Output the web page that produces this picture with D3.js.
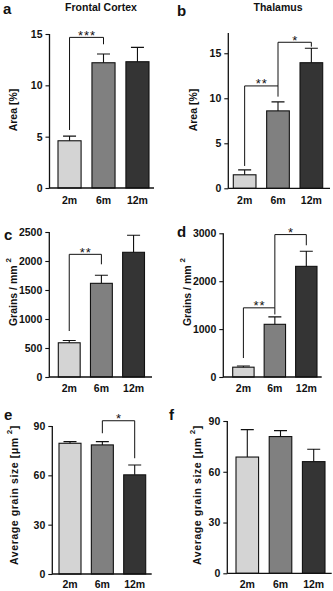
<!DOCTYPE html>
<html lang="en">
<head>
<meta charset="utf-8" />
<title>Area, grain density and grain size by age</title>
<style>
  body{margin:0;background:#fff;}
  svg text{font-family:"Liberation Sans",Arial,sans-serif;fill:#111;}
  .tick text{font-size:10.5px;font-weight:bold;}
  .xlab{font-size:10.5px;font-weight:bold;}
  .ylab{font-size:10.5px;font-weight:bold;}
  .title{font-size:10.5px;font-weight:bold;}
  .letter{font-size:15px;font-weight:bold;}
  .star{font-size:13px;letter-spacing:1px;}
</style>
<script src="https://cdn.jsdelivr.net/npm/d3@7.9.0/dist/d3.min.js"></script>
</head>
<body>
<div id="chart"></div>
<script>
/* ───────── DATA ───────── */
const months = ['2m','6m','12m'];
const fills  = ['#d4d4d4','#808080','#343434'];

const areaFC      = [4.6, 12.2, 12.3];
const areaFCerr   = [0.45, 0.85, 1.4];
const areaTH      = [1.5, 8.6, 13.95];
const areaTHerr   = [0.55, 1.0, 1.6];

const grainsFC    = [590, 1615, 2150];
const grainsFCerr = [40, 140, 295];
const grainsTH    = [205, 1100, 2310];
const grainsTHerr = [25, 155, 315];

const sizeFC      = [79.5, 78.5, 60.3];
const sizeFCerr   = [1.0, 2.0, 6.0];
const sizeTH      = [68.7, 80.8, 66.0];
const sizeTHerr   = [16.2, 3.5, 7.3];

const ticksArea   = [0, 5, 10, 15];
const ticksGrA    = [0, 500, 1000, 1500, 2000, 2500];
const ticksGrB    = [0, 1000, 2000, 3000];
const ticksSize   = [0, 30, 60, 90];

/* significance brackets: from/to bar, bracket level, leg ends (data units) */
const sigA = [{from:0,to:1,top:14.67,endA:5.65,endB:14.0,label:'***'}];
const sigB = [{from:0,to:1,top:11.37,endA:2.48,endB:10.18,label:'**'},
              {from:1,to:2,top:16.22,endA:11.37,endB:15.73,label:'*'}];
const sigC = [{from:0,to:1,top:2115,endA:793,endB:1943,label:'**'}];
const sigD = [{from:0,to:1,top:1444,endA:396,endB:1306,label:'**'},
              {from:1,to:2,top:2973,endA:1444,endB:2750,label:'*'}];
const sigE = [{from:1,to:2,top:93.2,endA:85.6,endB:70.4,label:'*'}];

/* ───────── LAYOUT ───────── */
const W = 333, H = 591;
const panels = [
  {letter:'a', lx:3,   ly:14,  title:'Frontal Cortex', tx:101,
   ax:49.5, xEnd:154, bars:[58,149], y0:188, yTop:34, max:15, ticks:ticksArea,
   vals:areaFC, err:areaFCerr, sig:sigA, ylab:'Area [%]', ylx:13, yly:110, xly:204},
  {letter:'b', lx:177, ly:16,  title:'Thalamus', tx:278,
   ax:228.3, xEnd:330, bars:[233.3,322.7], y0:188.3, yTop:33, max:17.25, ticks:ticksArea,
   vals:areaTH, err:areaTHerr, sig:sigB, ylab:'Area [%]', ylx:193, yly:110, xly:204},
  {letter:'c', lx:4,   ly:240,
   ax:49.3, xEnd:152, bars:[58.3,144.5], y0:377, yTop:232, max:2500, ticks:ticksGrA,
   vals:grainsFC, err:grainsFCerr, sig:sigC, ylab:'Grains / mm', sup:true, ylx:13, yly:292, xly:392},
  {letter:'d', lx:177, ly:237,
   ax:223.3, xEnd:321.7, bars:[232.7,317], y0:377, yTop:233.3, max:3000, ticks:ticksGrB,
   vals:grainsTH, err:grainsTHerr, sig:sigD, ylab:'Grains / mm', sup:true, ylx:187, yly:292, xly:392},
  {letter:'e', lx:4,   ly:420,
   ax:52.3, xEnd:151.7, bars:[59,145.7], y0:574, yTop:426, max:90, ticks:ticksSize,
   vals:sizeFC, err:sizeFCerr, sig:sigE, ylab:'Average grain size [μm', sup:true, close:']', spread:0.6, ylx:14, yly:495, xly:588},
  {letter:'f', lx:169, ly:420,
   ax:227.3, xEnd:331.7, bars:[236,325], y0:573.3, yTop:421, max:90, ticks:ticksSize,
   vals:sizeTH, err:sizeTHerr, sig:[], ylab:'Average grain size [μm', sup:true, close:']', spread:0.6, ylx:197, yly:495, xly:588}
];

const svg = d3.select('#chart').append('svg')
  .attr('width',W).attr('height',H).attr('viewBox',[0,0,W,H]);

panels.forEach(p=>{
  const g = svg.append('g');
  const y = d3.scaleLinear([0,p.max],[p.y0,p.yTop]);
  const x = d3.scaleBand(months,p.bars).paddingInner(0.32).paddingOuter(0);
  const bw = x.bandwidth(), cx = d => x(d)+bw/2;

  /* bars */
  g.selectAll('.bar').data(months).join('rect')
    .attr('x',d=>x(d)).attr('width',bw)
    .attr('y',(d,i)=>y(p.vals[i])).attr('height',(d,i)=>y(0)-y(p.vals[i]))
    .attr('fill',(d,i)=>fills[i]).attr('stroke','#111').attr('stroke-width',1.1);

  /* error bars (upper only) */
  const capW = 13;
  g.selectAll('.err').data(months).join('path')
    .attr('d',(d,i)=>{
      const c=cx(d), t=y(p.vals[i]+p.err[i]);
      return `M${c},${y(p.vals[i])}V${t}M${c-capW/2},${t}H${c+capW/2}`;
    })
    .attr('fill','none').attr('stroke','#111').attr('stroke-width',1.1);

  /* axes */
  const yAxis = d3.axisLeft(y).tickValues(p.ticks).tickSize(4).tickPadding(3).tickFormat(d3.format('d'));
  const ag = g.append('g').attr('transform',`translate(${p.ax},0)`).call(yAxis);
  ag.select('.domain').remove();
  ag.selectAll('.tick line').attr('stroke','#111').attr('stroke-width',1.1);
  g.append('line').attr('x1',p.ax).attr('x2',p.ax).attr('y1',p.yTop).attr('y2',p.y0+0.5)
    .attr('stroke','#111').attr('stroke-width',1.3);
  g.append('line').attr('x1',p.ax).attr('x2',p.xEnd).attr('y1',p.y0).attr('y2',p.y0)
    .attr('stroke','#111').attr('stroke-width',1.3);

  g.selectAll('.xlab').data(months).join('text').attr('class','xlab')
    .attr('x',d=>cx(d)).attr('y',p.xly).attr('text-anchor','middle').text(d=>d);

  /* significance brackets */
  p.sig.forEach(s=>{
    const xa=cx(months[s.from]), xb=cx(months[s.to]), t=y(s.top);
    g.append('path')
      .attr('d',`M${xa},${y(s.endA)}V${t}H${xb}V${y(s.endB)}`)
      .attr('fill','none').attr('stroke','#111').attr('stroke-width',1);
    g.append('text').attr('class','star').attr('text-anchor','middle')
      .attr('x',(xa+xb)/2+0.5).attr('y',t+2.5).text(s.label);
  });

  /* y label */
  const yl = g.append('text').attr('class','ylab').attr('text-anchor','middle')
    .attr('dominant-baseline','central')
    .attr('letter-spacing',p.spread||0)
    .attr('transform',`translate(${p.ylx},${p.yly}) rotate(-90)`);
  yl.append('tspan').text(p.ylab);
  if(p.sup){
    yl.append('tspan').attr('dx',3).attr('dy',-5).attr('font-size','8px').text('2');
    if(p.close) yl.append('tspan').attr('dy',5).text(p.close);
  }

  /* letters / titles */
  g.append('text').attr('class','letter').attr('x',p.lx).attr('y',p.ly).text(p.letter);
  if(p.title) g.append('text').attr('class','title').attr('text-anchor','middle')
    .attr('x',p.tx).attr('y',10.5).text(p.title);
});
</script>
</body>
</html>
